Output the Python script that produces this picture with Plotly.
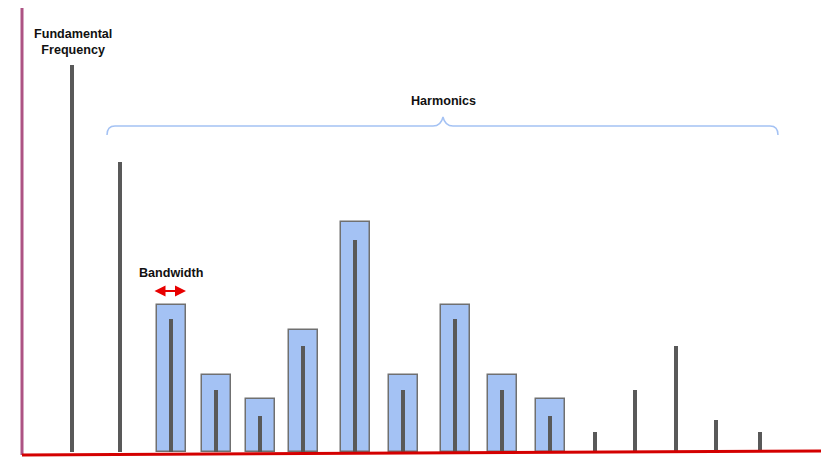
import plotly.graph_objects as go

# spectral lines: position (px-like frequency units) and amplitude
line_x = [72, 120, 171, 216, 260, 303, 355, 403, 455, 502, 550, 595, 635, 676, 716, 760]
line_h = [387, 290, 133, 62, 36, 106, 212, 62, 133, 62, 36, 20, 62, 106, 32, 20]

# bandwidth boxes around the harmonics
band_x = [171, 216, 260, 303, 355, 403, 455, 502, 550]
band_h = [147, 77, 53, 122, 230, 77, 147, 77, 53]

fig = go.Figure()

fig.add_trace(go.Bar(
    x=band_x, y=band_h, width=29,
    marker=dict(color="#a4c2f4", line=dict(color="#707070", width=1.5)),
    hoverinfo="skip",
))
fig.add_trace(go.Bar(
    x=line_x, y=line_h, width=4,
    marker=dict(color="#595959", line=dict(width=0)),
    hoverinfo="skip",
))

# axes drawn as shapes (diagram style)
fig.add_shape(type="line", x0=22, y0=444, x1=22, y1=-3,
              line=dict(color="#ad5384", width=3), layer="above")
fig.add_shape(type="line", x0=22, y0=-3, x1=829, y1=1,
              line=dict(color="#d40000", width=3), layer="above")

# harmonics brace
fig.add_shape(
    type="path",
    path="M 107,317 Q 107,326 115,326 L 433,326 Q 441,326 443,335 "
         "Q 445,326 453,326 L 770,326 Q 778,326 778,317",
    line=dict(color="#a4c2f4", width=1.5),
)

label_font = dict(size=12.6, color="#111")
fig.add_annotation(x=73, y=410, text="<b>Fundamental<br>Frequency</b>",
                   showarrow=False, font=label_font)
fig.add_annotation(x=443, y=351, text="<b>Harmonics</b>",
                   showarrow=False, font=label_font)
fig.add_annotation(x=171, y=179, text="<b>Bandwidth</b>",
                   showarrow=False, font=label_font)
fig.add_annotation(x=186, y=161, ax=153, ay=161, axref="x", ayref="y",
                   text="", showarrow=True, arrowside="end+start",
                   arrowhead=2, arrowsize=1, arrowwidth=2.2, arrowcolor="#e80000")

# page body adds an 8px margin, so the figure is 8px smaller
fig.update_layout(
    width=821, height=462,
    margin=dict(l=0, r=0, t=0, b=0),
    plot_bgcolor="white", paper_bgcolor="white",
    barmode="overlay", bargap=0,
    showlegend=False,
    font=dict(family="Liberation Sans, Arial, sans-serif"),
)
fig.update_xaxes(range=[8, 829], visible=False)
fig.update_yaxes(range=[-18, 444], visible=False)

fig.write_html("out.html")
